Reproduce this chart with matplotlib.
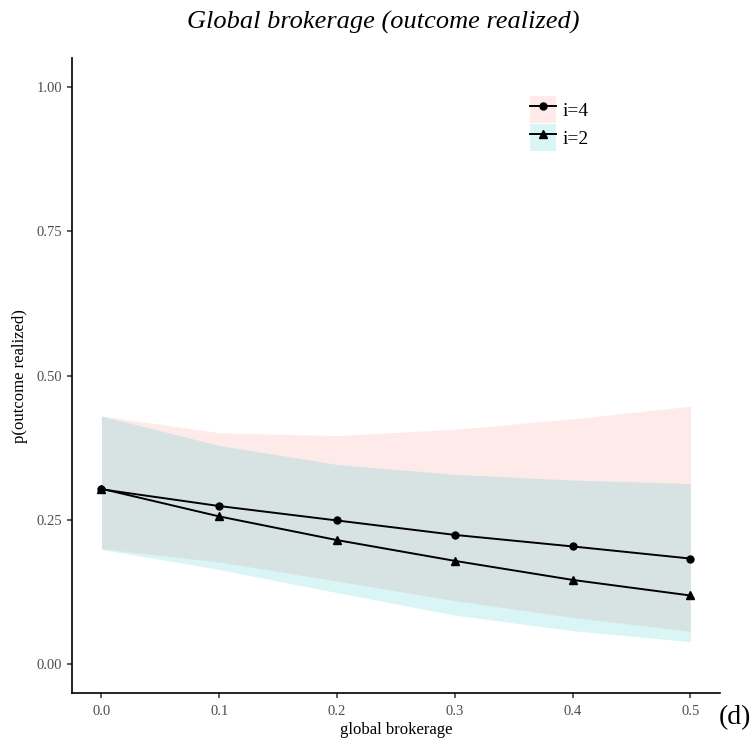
import numpy as np
import matplotlib
matplotlib.use("Agg")
import matplotlib.pyplot as plt
from matplotlib.patches import Patch
from matplotlib.lines import Line2D

# global brokerage values
brokerage = [0.0, 0.1, 0.2, 0.3, 0.4, 0.5]

# i=4 : estimate and confidence band
p_i4 = [0.303, 0.274, 0.249, 0.224, 0.204, 0.183]
lo_i4 = [0.200, 0.177, 0.144, 0.110, 0.081, 0.057]
hi_i4 = [0.430, 0.401, 0.396, 0.407, 0.425, 0.447]

# i=2 : estimate and confidence band
p_i2 = [0.304, 0.256, 0.215, 0.179, 0.146, 0.119]
lo_i2 = [0.199, 0.164, 0.124, 0.085, 0.058, 0.039]
hi_i2 = [0.430, 0.379, 0.346, 0.329, 0.319, 0.313]

y_ticks = [0.00, 0.25, 0.50, 0.75, 1.00]
x_ticks = [0.0, 0.1, 0.2, 0.3, 0.4, 0.5]

plt.rcParams['font.family'] = ['Liberation Serif', 'DejaVu Serif']

pink = '#F8766D'
teal = '#00BFC4'
band_alpha = 0.15

fig = plt.figure(figsize=(7.56, 7.46), dpi=100)
ax = fig.add_axes([0.0952, 0.071, 0.857, 0.851])

ax.fill_between(brokerage, lo_i4, hi_i4, color=pink, alpha=band_alpha, lw=0)
ax.fill_between(brokerage, lo_i2, hi_i2, color=teal, alpha=band_alpha, lw=0)
ax.plot(brokerage, p_i4, color='black', lw=1.4, marker='o', ms=5)
ax.plot(brokerage, p_i2, color='black', lw=1.4, marker='^', ms=6)

ax.set_xlim(-0.025, 0.525)
ax.set_ylim(-0.05, 1.05)
ax.set_xticks(x_ticks)
ax.set_xticklabels([f'{v:.1f}' for v in x_ticks])
ax.set_yticks(y_ticks)
ax.set_yticklabels([f'{v:.2f}' for v in y_ticks])

for side in ['top', 'right']:
    ax.spines[side].set_visible(False)
for side in ['left', 'bottom']:
    ax.spines[side].set_linewidth(1.2)
    ax.spines[side].set_color('black')
ax.tick_params(axis='both', colors='#333333', labelcolor='#4D4D4D',
               labelsize=10.5, length=3.5, width=1.1)
ax.tick_params(axis='x', pad=5)

ax.set_xlabel('global brokerage', fontsize=12, labelpad=3)
ax.set_ylabel('p(outcome realized)', fontsize=12, labelpad=6)
fig.suptitle('Global brokerage (outcome realized)', fontsize=19,
             style='italic', y=0.985, x=0.507)

handles = [
    (Patch(facecolor=pink, alpha=band_alpha, lw=0),
     Line2D([], [], color='black', lw=1.4, marker='o', ms=5)),
    (Patch(facecolor=teal, alpha=band_alpha, lw=0),
     Line2D([], [], color='black', lw=1.4, marker='^', ms=6)),
]
fig.legend(handles, ['i=4', 'i=2'], loc='upper left',
           bbox_to_anchor=(0.688, 0.884), frameon=False, fontsize=14,
           handlelength=1.35, handleheight=1.75, handletextpad=0.35,
           labelspacing=0.05, borderpad=0)

fig.text(0.972, 0.038, '(d)', fontsize=20, ha='center', va='center')

fig.savefig('out.png', dpi=100)
